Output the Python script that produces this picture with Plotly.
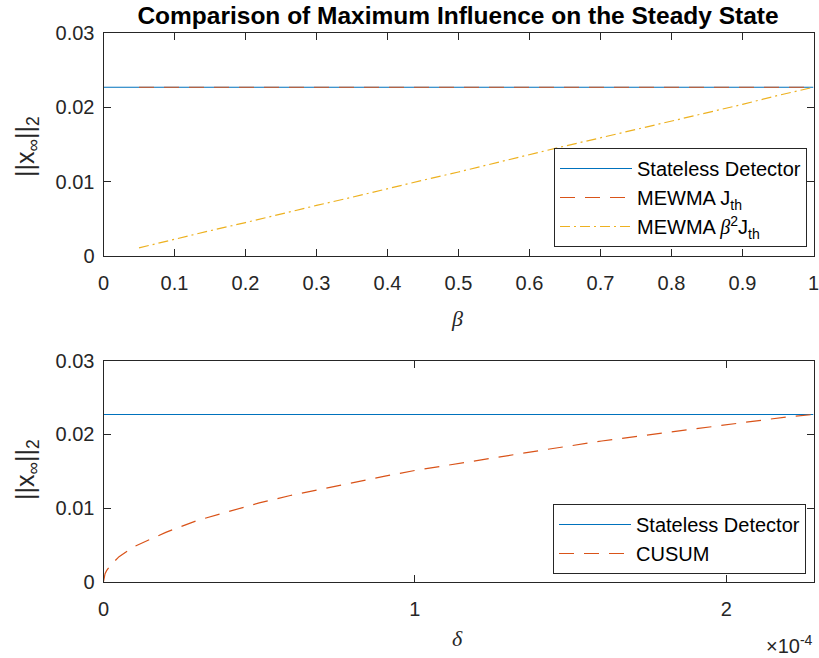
import plotly.graph_objects as go

# ---- data ----
beta_full = [0.0, 1.0]
stateless_top = [0.0227, 0.0227]
beta = [0.05, 0.10, 0.15, 0.20, 0.25, 0.30, 0.35, 0.40, 0.45, 0.50,
        0.55, 0.60, 0.65, 0.70, 0.75, 0.80, 0.85, 0.90, 0.95, 1.00]
mewma_jth = [0.0227, 0.0227, 0.0227, 0.0227, 0.0227, 0.0227, 0.0227, 0.0227, 0.0227, 0.0227,
             0.0227, 0.0227, 0.0227, 0.0227, 0.0227, 0.0227, 0.0227, 0.0227, 0.0227, 0.0227]
mewma_b2jth = [0.0011, 0.0023, 0.0034, 0.0045, 0.0057, 0.0068, 0.0079, 0.0091, 0.0102, 0.0113,
               0.0125, 0.0136, 0.0148, 0.0159, 0.0170, 0.0182, 0.0193, 0.0204, 0.0216, 0.0227]

delta_full = [0.0, 2.28e-4]
stateless_bot = [0.0227, 0.0227]
delta = [0.0, 0.002e-4, 0.005e-4, 0.01e-4, 0.02e-4, 0.05e-4, 0.1e-4, 0.2e-4, 0.3e-4, 0.4e-4,
         0.5e-4, 0.6e-4, 0.7e-4, 0.8e-4, 0.9e-4, 1.0e-4, 1.2e-4, 1.4e-4, 1.6e-4,
         1.8e-4, 2.0e-4, 2.2e-4, 2.28e-4]
cusum = [0.0, 0.0007, 0.0011, 0.0015, 0.0021, 0.0034, 0.0048, 0.0067, 0.0083, 0.0095,
         0.0107, 0.0117, 0.0126, 0.0135, 0.0143, 0.0151, 0.0165, 0.0178, 0.0191,
         0.0202, 0.0213, 0.0224, 0.0227]

x_ticks_top = [0, 0.1, 0.2, 0.3, 0.4, 0.5, 0.6, 0.7, 0.8, 0.9, 1]
x_ticks_bot = [0, 1e-4, 2e-4]
x_ticktext_bot = ["0", "1", "2"]
y_ticks = [0, 0.01, 0.02, 0.03]
y_ticktext = ["0", "0.01", "0.02", "0.03"]

BLUE = "#0072BD"
ORANGE = "#D95319"
YELLOW = "#EDB120"
AX = "#262626"
FONT = "Liberation Sans, Arial, sans-serif"
SERIF = "Liberation Serif, Times New Roman, serif"

W, H = 819, 658
fig = go.Figure()

fig.add_trace(go.Scatter(x=beta_full, y=stateless_top, mode="lines", name="Stateless Detector",
                         line=dict(color=BLUE, width=1.2), xaxis="x", yaxis="y", legend="legend"))
fig.add_trace(go.Scatter(x=beta, y=mewma_jth, mode="lines", name="MEWMA J<sub>th</sub>",
                         line=dict(color=ORANGE, width=1.2, dash="15px,10px"), xaxis="x", yaxis="y", legend="legend"))
fig.add_trace(go.Scatter(x=beta, y=mewma_b2jth, mode="lines",
                         name="MEWMA <i><span style='font-family:Liberation Serif'>β</span></i><sup>2</sup>J<sub>th</sub>",
                         line=dict(color=YELLOW, width=1.2, dash="10px,4px,2px,4px"), xaxis="x", yaxis="y", legend="legend"))

fig.add_trace(go.Scatter(x=delta_full, y=stateless_bot, mode="lines", name="Stateless Detector",
                         line=dict(color=BLUE, width=1.2), xaxis="x2", yaxis="y2", legend="legend2"))
fig.add_trace(go.Scatter(x=delta, y=cusum, mode="lines", name="CUSUM",
                         line=dict(color=ORANGE, width=1.2, dash="15px,10px"), xaxis="x2", yaxis="y2", legend="legend2"))

x0, x1 = 103.5 / W, 813.5 / W
top_dom = [(H - 256) / H, (H - 33) / H]
bot_dom = [(H - 581.7) / H, (H - 360.7) / H]

axis_common = dict(showline=True, linecolor=AX, linewidth=1, mirror="ticks", ticks="inside",
                   ticklen=7, tickcolor=AX, tickwidth=1, showgrid=False, zeroline=False,
                   automargin=False, ticklabeloverflow="allow",
                   tickfont=dict(family=FONT, size=20, color=AX))

fig.update_layout(
    width=W, height=H,
    margin=dict(l=0, r=0, t=0, b=0, pad=0, autoexpand=False),
    paper_bgcolor="white", plot_bgcolor="white",
    font=dict(family=FONT, color=AX),
    showlegend=True,
    xaxis=dict(domain=[x0, x1], anchor="y", range=[0, 1], tickvals=x_ticks_top,
               ticklabelstandoff=9, **axis_common),
    yaxis=dict(domain=top_dom, anchor="x", range=[0, 0.03], tickvals=y_ticks, ticktext=y_ticktext,
               ticklabelstandoff=4, **axis_common),
    xaxis2=dict(domain=[x0, x1], anchor="y2", range=[0, 2.28e-4], tickvals=x_ticks_bot,
                ticktext=x_ticktext_bot, ticklabelstandoff=9, **axis_common),
    yaxis2=dict(domain=bot_dom, anchor="x2", range=[0, 0.03], tickvals=y_ticks, ticktext=y_ticktext,
                ticklabelstandoff=4, **axis_common),
    legend=dict(x=807 / W, y=(H - 247) / H, xanchor="right", yanchor="bottom",
                bordercolor=AX, borderwidth=1, bgcolor="white", itemwidth=72,
                font=dict(family=FONT, size=20, color="black")),
    legend2=dict(x=806 / W, y=(H - 574) / H, xanchor="right", yanchor="bottom",
                 bordercolor=AX, borderwidth=1, bgcolor="white", itemwidth=72,
                 font=dict(family=FONT, size=20, color="black")),
    title=dict(text="<b>Comparison of Maximum Influence on the Steady State</b>",
               x=458 / W, xanchor="center", y=(H - 15) / H, yanchor="middle",
               font=dict(family=FONT, size=24.5, color="black")),
)

ann = [
    dict(text="<i>β</i>", x=457 / W, y=(H - 318) / H, font=dict(family=SERIF, size=22, color=AX)),
    dict(text="<i>δ</i>", x=457 / W, y=(H - 638) / H, font=dict(family=SERIF, size=22, color=AX)),
    dict(text="||x<sub>∞</sub>||<sub>2</sub>", x=27 / W, y=(H - 147) / H, textangle=-90,
         font=dict(family=FONT, size=25, color=AX)),
    dict(text="||x<sub>∞</sub>||<sub>2</sub>", x=27 / W, y=(H - 470) / H, textangle=-90,
         font=dict(family=FONT, size=25, color=AX)),
    dict(text="×10<sup>-4</sup>", x=815 / W, y=(H - 644) / H, xanchor="right",
         font=dict(family=FONT, size=20, color=AX)),
]
for a in ann:
    a.update(xref="paper", yref="paper", showarrow=False)
    a.setdefault("xanchor", "center")
    a.setdefault("yanchor", "middle")
fig.update_layout(annotations=ann)

fig.write_html("out.html")
